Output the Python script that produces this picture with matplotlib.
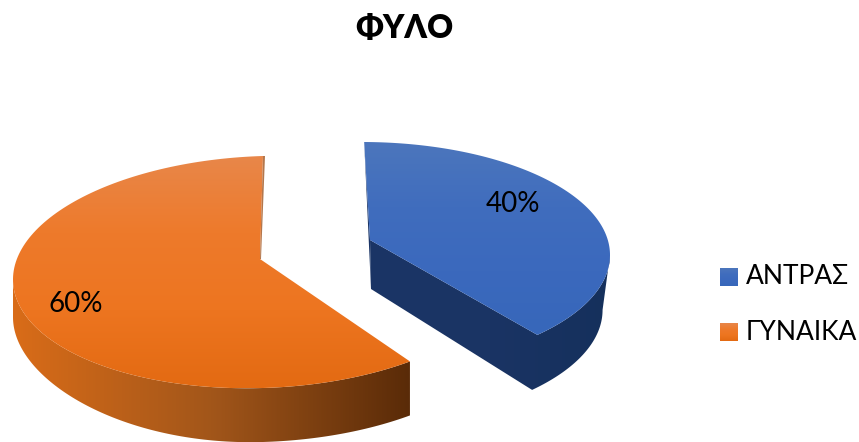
import numpy as np
import matplotlib.pyplot as plt
from matplotlib.colors import LinearSegmentedColormap
from matplotlib.patches import Polygon

plt.rcParams["font.family"] = ["Lato", "Noto Sans", "DejaVu Sans"]

title = "ΦΥΛΟ"
categories = ["ΑΝΤΡΑΣ", "ΓΥΝΑΙΚΑ"]
shares = [40, 60]

W, H = 859, 442

# slice geometry in pixels: apex, rim ellipse, shear and extrusion depth
slices = {
    "ΑΝΤΡΑΣ": dict(apex=(370, 240), c=(362, 255), r=(248, 113), shear=0.0, depth=55, taper=0.0,
                   pull=0.97, offset=0.5, squash=135 / 144,
                   top=["#4C76BC", "#406DBE", "#3B69BD", "#3767BA"],
                   side=["#1B3566", "#1A3464", "#15305C"], label=(513, 204)),
    "ΓΥΝΑΙΚΑ": dict(apex=(260, 259), c=(263, 272), r=(250, 116), shear=-0.03, depth=54, taper=0.3,
                    pull=1.0, offset=0.0, squash=1.0,
                    top=["#E8874A", "#EE7A2B", "#ED7520", "#E36A12"],
                    side=["#D96C18", "#A2561A", "#5A2B08"], label=(76, 304)),
}


def rim(cfg, a, b, n=160):
    """Points on a slice's outer edge between two clockwise angles from 12 o'clock."""
    t = np.radians(np.linspace(a, b, n))
    dx = cfg["r"][0] * np.sin(t)
    y = cfg["c"][1] - cfg["r"][1] * np.cos(t) + cfg["shear"] * dx
    return np.column_stack([cfg["c"][0] + dx, y])


def lower_rim(cfg, a, b, n=160):
    """The same edge at the bottom of the extrusion, pulled in slightly by perspective."""
    t = np.radians(np.linspace(a, b, n))
    pts = rim(cfg, a, b, n)
    pts[:, 0] = cfg["c"][0] + cfg["pull"] * (pts[:, 0] - cfg["c"][0])
    left = np.clip(-np.sin(t), 0, 1) ** 2
    pts[:, 1] += cfg["depth"] * (1 - cfg["taper"] * left)
    return pts


def gradient(ax, verts, colors, horizontal=False):
    """Fill a polygon with a linear gradient, clipped to its outline."""
    cmap = LinearSegmentedColormap.from_list("g", colors)
    xs, ys = verts[:, 0], verts[:, 1]
    ramp = np.linspace(0, 1, 256)
    ramp = ramp.reshape(1, -1) if horizontal else ramp.reshape(-1, 1)
    im = ax.imshow(ramp, cmap=cmap, aspect="auto", interpolation="bilinear",
                   extent=(xs.min(), xs.max(), ys.max(), ys.min()), zorder=2)
    patch = Polygon(verts, closed=True, transform=ax.transData, fc="none", ec="none")
    ax.add_patch(patch)
    im.set_clip_path(patch)


fig = plt.figure(figsize=(W / 100, H / 100), dpi=100)
ax = fig.add_axes([0, 0, 1, 1])

start = 0.0
for name, share in zip(categories, shares):
    cfg = slices[name]
    end = start + share * 3.6
    a, b = start * cfg["squash"] + cfg["offset"], end * cfg["squash"]
    apex = np.array(cfg["apex"], dtype=float)

    edge = rim(cfg, a, b)
    top_face = np.vstack([apex, edge])

    if name == categories[0]:
        # blue slice: cut face towards the viewer plus the lower right rim
        upper = rim(cfg, 90, b, 80)
        lower = lower_rim(cfg, 90, b, 80)
        apex_low = apex + (1, 49)
        side = np.vstack([apex, upper[::-1], lower, apex_low])
        # thin sliver of the hidden cut face on the left
        sliver = np.array([edge[0], apex, apex_low])
        ax.add_patch(Polygon(sliver, fc=cfg["side"][0], ec="none", zorder=2))
        gradient(ax, side, cfg["side"], horizontal=True)
    else:
        # orange slice: only the rim below the ellipse's left extreme shows
        upper = rim(cfg, a, 270, 120)
        lower = lower_rim(cfg, a, 270, 120)
        side = np.vstack([upper, lower[::-1]])
        gradient(ax, side, cfg["side"], horizontal=True)
        sliver = np.array([edge[-1], apex, apex + (1, 0), edge[-1] + (2, 0)])
        ax.add_patch(Polygon(sliver, fc="#B4774C", ec="none", zorder=3))

    gradient(ax, top_face, cfg["top"])
    ax.text(*cfg["label"], f"{share}%", fontsize=20, ha="center", va="center",
            color="black", zorder=5)
    start = end

ax.text(404, 28, title, fontsize=23, fontweight="heavy", ha="center", va="center")

# legend
legend_y = [277, 332]
for name, y in zip(categories, legend_y):
    cfg = slices[name]
    box = np.array([[720, y - 9], [738, y - 9], [738, y + 9], [720, y + 9]], dtype=float)
    gradient(ax, box, cfg["top"])
    ax.text(746, y, name, fontsize=19, ha="left", va="center")

ax.set_xlim(0, W)
ax.set_ylim(H, 0)
ax.axis("off")
fig.savefig("out.png", dpi=100)
